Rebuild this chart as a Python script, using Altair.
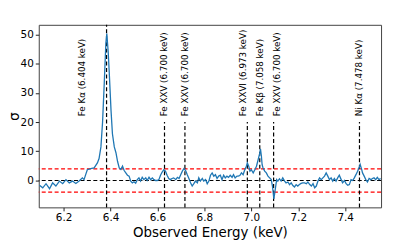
import altair as alt
import pandas as pd

# ---- data ----
energy = [
    6.097, 6.111, 6.125, 6.140, 6.153, 6.167, 6.182, 6.196, 6.210, 6.224,
    6.238, 6.252, 6.266, 6.280, 6.287, 6.294, 6.301, 6.315, 6.330, 6.344,
    6.351, 6.359, 6.366, 6.373, 6.380, 6.384, 6.390, 6.395, 6.402, 6.408,
    6.416, 6.423, 6.430, 6.437, 6.444, 6.451, 6.458, 6.465, 6.472, 6.479,
    6.486, 6.493, 6.500, 6.507, 6.514, 6.521, 6.528, 6.535, 6.542, 6.550,
    6.556, 6.564, 6.571, 6.578, 6.585, 6.592, 6.599, 6.606, 6.613, 6.620,
    6.627, 6.634, 6.641, 6.648, 6.655, 6.662, 6.669, 6.678, 6.685, 6.692,
    6.699, 6.706, 6.713, 6.720, 6.727, 6.734, 6.741, 6.748, 6.755, 6.762,
    6.770, 6.776, 6.783, 6.791, 6.797, 6.805, 6.812, 6.819, 6.826, 6.833,
    6.840, 6.847, 6.854, 6.861, 6.868, 6.875, 6.882, 6.889, 6.896, 6.903,
    6.910, 6.918, 6.924, 6.931, 6.939, 6.944, 6.951, 6.958, 6.965, 6.972,
    6.979, 6.983, 6.989, 6.994, 7.000, 7.008, 7.015, 7.022, 7.029, 7.036,
    7.039, 7.043, 7.046, 7.050, 7.057, 7.064, 7.071, 7.078, 7.085, 7.090,
    7.094, 7.096, 7.099, 7.104, 7.108, 7.113, 7.120, 7.127, 7.134, 7.142,
    7.148, 7.156, 7.163, 7.170, 7.177, 7.184, 7.191, 7.198, 7.205, 7.212,
    7.219, 7.227, 7.235, 7.241, 7.249, 7.256, 7.263, 7.270, 7.277, 7.284,
    7.291, 7.298, 7.305, 7.312, 7.319, 7.326, 7.333, 7.340, 7.347, 7.354,
    7.361, 7.368, 7.375, 7.383, 7.389, 7.397, 7.404, 7.411, 7.418, 7.425,
    7.432, 7.439, 7.446, 7.453, 7.460, 7.464, 7.470, 7.474, 7.481, 7.488,
    7.495, 7.502, 7.510, 7.516, 7.523, 7.530, 7.537, 7.544, 7.551,
]
sigma = [
    -1.6, -2.5, -1.1, -2.8, -0.8, -1.9, -0.2, -1.1, 0.3, -0.8,
    -0.2, -1.0, -0.2, 0.9, 0.3, 2.0, 3.7, 4.1, 4.3, 6.0,
    7.5, 11.5, 20.0, 33.0, 47.0, 50.3, 44.0, 36.0, 24.0, 16.0,
    11.5, 9.5, 6.5, 4.3, 3.8, 4.9, 3.4, 2.6, 1.8, 1.5,
    -0.2, -0.8, -0.45, -0.9, 0.3, 0.9, -0.2, 1.1, 0.3, 0.9,
    0.0, 1.1, 0.3, 0.9, 0.3, 0.0, 0.0, 0.3, 1.8, 2.9,
    3.7, 3.2, 1.8, 0.7, 0.3, 0.7, 0.9, 0.3, 1.1, 0.7,
    2.0, 3.2, 4.1, 3.4, 2.0, 0.7, -0.8, -1.9, -1.1, -0.2,
    -0.8, 0.9, -0.2, 0.7, -0.2, 0.3, -1.1, -0.2, 1.8, 2.6,
    1.5, 2.0, 0.7, 1.5, 1.8, 0.3, 1.8, 0.9, 1.5, 1.1,
    1.8, 1.1, 2.0, 0.9, 1.5, 1.5, 1.7, 2.6, 2.0, 3.7,
    4.9, 6.0, 4.9, 3.2, 3.7, 2.6, 3.7, 4.9, 7.1, 9.4,
    10.8, 8.3, 5.4, 4.3, 3.2, 2.6, 1.5, 0.9, 0.3, -1.9,
    -4.8, -6.3, -4.8, -1.9, 0.3, -0.2, 0.6, -0.2, 0.9, -0.2,
    -0.8, -0.5, -1.4, -0.8, -1.7, -2.2, -1.4, -1.9, -1.4, -1.0,
    -0.8, -0.8, -1.1, -0.5, -1.4, -1.9, -1.1, -2.5, -1.9, -0.2,
    0.9, 0.3, 0.9, 1.5, 2.6, 1.5, 0.3, 0.9, -0.2, 0.7,
    -0.2, 0.9, 1.8, 0.3, -0.8, 0.0, -1.1, -1.6, -1.4, 0.3,
    0.0, 0.9, 2.0, 3.2, 4.5, 5.5, 3.9, 2.6, 1.5, 0.3,
    -0.5, 0.7, 0.3, 0.7, 0.9, 0.3, 1.1, 0.3, 0.7,
]

line_energy = [6.383, 6.630, 6.717, 6.983, 7.036, 7.095, 7.461]
line_top = [53.3, 20, 20, 20, 20, 20, 20]
label_text = [
    "Fe Kα (6.404 keV)", "Fe XXV (6.700 keV)", "Fe XXV (6.700 keV)",
    "Fe XXVI (6.973 keV)", "Fe Kβ (7.058 keV)", "Fe XXV (6.700 keV)",
    "Ni Kα (7.478 keV)",
]
label_x = [6.280, 6.627, 6.716, 6.965, 7.036, 7.109, 7.459]
label_y = [22, 22, 22, 22, 22, 22, 22]

threshold_y = [4, 0, -4]
threshold_color = ["#ff0000", "#000000", "#ff0000"]

x_ticks = [6.2, 6.4, 6.6, 6.8, 7.0, 7.2, 7.4]
y_ticks = [0, 10, 20, 30, 40, 50]

X_DOM = [6.094, 7.553]
Y_DOM = [-9.2, 53.3]

# ---- tables ----
curve = pd.DataFrame({"E": energy, "S": sigma})
vlines = pd.DataFrame({"E": line_energy, "top": line_top,
                       "bottom": [Y_DOM[0]] * len(line_energy)})
labels = pd.DataFrame({"E": label_x, "S": label_y, "text": label_text})
hlines = pd.DataFrame({"S": threshold_y, "c": threshold_color})

xscale = alt.Scale(domain=X_DOM, nice=False, zero=False)
yscale = alt.Scale(domain=Y_DOM, nice=False, zero=False)
xaxis = alt.Axis(values=x_ticks, format=".1f", title="Observed Energy (keV)")
yaxis = alt.Axis(values=y_ticks, format="d", title="σ",
                 titleAngle=270, titleX=-24, titleY=92,
                 titleAlign="center", titleBaseline="middle")


def X(field):
    return alt.X(field, type="quantitative", scale=xscale, axis=xaxis)


def Y(field):
    return alt.Y(field, type="quantitative", scale=yscale, axis=yaxis)


line = alt.Chart(curve).mark_line(color="#1f77b4", strokeWidth=1.3, clip=True).encode(
    x=X("E"), y=Y("S")
)

h = alt.Chart(hlines).mark_rule(strokeDash=[4, 2.5], strokeWidth=1.2).encode(
    y=Y("S"), color=alt.Color("c:N", scale=None, legend=None)
)

v = alt.Chart(vlines).mark_rule(strokeDash=[4, 2.5], strokeWidth=1.2, color="black").encode(
    x=X("E"), y=Y("bottom"), y2="top"
)

txt = alt.Chart(labels).mark_text(
    angle=270, align="left", baseline="middle", fontSize=8.8,
    font="DejaVu Sans", color="black"
).encode(x=X("E"), y=Y("S"), text="text:N")

chart = alt.layer(h, v, line, txt).properties(
    width=345, height=184,
    autosize=alt.AutoSizeParams(type="none"),
    padding={"left": 31, "top": 16, "right": 8, "bottom": 40},
).configure_view(
    stroke="#444", strokeWidth=1
).configure_axis(
    domain=False, grid=False, tickColor="#222", tickSize=3.5, tickWidth=1,
    labelFont="DejaVu Sans", labelFontSize=10.5, labelColor="black", labelPadding=2,
    titleFont="DejaVu Sans", titleFontSize=13.5, titleFontWeight="normal",
    titleColor="black",
).configure_axisX(titlePadding=2)

chart.save("out.html", embed_options={"renderer": "svg", "actions": False})
